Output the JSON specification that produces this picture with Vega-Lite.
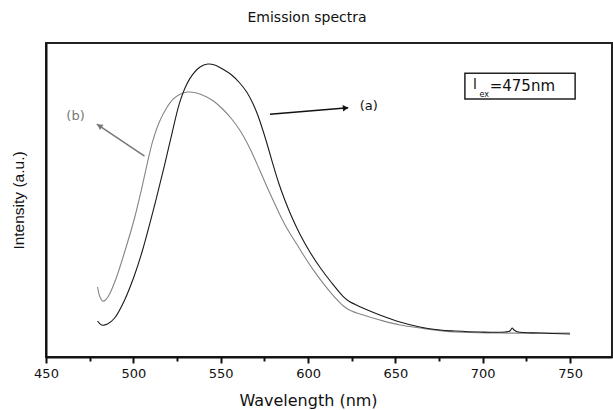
{
  "$schema": "https://vega.github.io/schema/vega-lite/v6.json",
  "width": 566,
  "height": 314,
  "autosize": {"type": "none"},
  "padding": {"left": 46, "top": 43, "right": 1, "bottom": 53},
  "background": "white",
  "title": {"text": "Emission spectra", "font": "DejaVu Sans", "fontSize": 14, "fontWeight": "normal", "color": "#111", "anchor": "middle", "frame": "group", "dx": -22, "offset": 7, "baseline": "alphabetic"},
  "config": {"view": {"stroke": "#222", "strokeWidth": 2}, "axis": {"grid": false}},
  "datasets": {
    "a": [
      {"wl": 479.5, "I": 11.46}, {"wl": 481.8, "I": 10.19}, {"wl": 485.2, "I": 10.51}, {"wl": 489.3, "I": 12.42},
      {"wl": 495.0, "I": 18.15}, {"wl": 500.7, "I": 26.11}, {"wl": 505.3, "I": 34.08}, {"wl": 512.2, "I": 48.41},
      {"wl": 517.9, "I": 61.15}, {"wl": 521.9, "I": 70.70}, {"wl": 526.5, "I": 81.0}, {"wl": 530.5, "I": 86.8},
      {"wl": 534.0, "I": 90.0}, {"wl": 538.0, "I": 92.3}, {"wl": 542.6, "I": 93.31}, {"wl": 546.6, "I": 92.99},
      {"wl": 551.1, "I": 91.72}, {"wl": 556.3, "I": 89.81}, {"wl": 560.9, "I": 87.26}, {"wl": 564.9, "I": 84.39},
      {"wl": 568.3, "I": 80.89}, {"wl": 571.2, "I": 77.07}, {"wl": 574.1, "I": 72.29}, {"wl": 576.9, "I": 67.2},
      {"wl": 579.8, "I": 61.6}, {"wl": 583.2, "I": 55.41}, {"wl": 586.7, "I": 50.00}, {"wl": 590.7, "I": 44.59},
      {"wl": 595.3, "I": 39.2}, {"wl": 601.0, "I": 33.5}, {"wl": 606.7, "I": 28.66}, {"wl": 613.6, "I": 23.57},
      {"wl": 619.9, "I": 19.4}, {"wl": 622.8, "I": 18.0}, {"wl": 629.7, "I": 16.0}, {"wl": 641.1, "I": 13.38},
      {"wl": 652.6, "I": 11.15}, {"wl": 664.0, "I": 9.55}, {"wl": 675.5, "I": 8.60}, {"wl": 684.1, "I": 8.28},
      {"wl": 698.4, "I": 7.96}, {"wl": 712.8, "I": 7.96}, {"wl": 715.6, "I": 8.28}, {"wl": 716.8, "I": 9.24},
      {"wl": 717.9, "I": 8.60}, {"wl": 720.2, "I": 7.96}, {"wl": 732.8, "I": 7.64}, {"wl": 750.0, "I": 7.32}
    ],
    "b": [
      {"wl": 479.5, "I": 22.29}, {"wl": 480.7, "I": 19.43}, {"wl": 482.4, "I": 17.83}, {"wl": 484.1, "I": 18.15},
      {"wl": 486.4, "I": 20.06}, {"wl": 490.4, "I": 25.48}, {"wl": 495.0, "I": 33.44}, {"wl": 500.7, "I": 44.27},
      {"wl": 504.7, "I": 53.5}, {"wl": 508.2, "I": 62.2}, {"wl": 511.0, "I": 68.6}, {"wl": 515.0, "I": 75.0},
      {"wl": 519.1, "I": 79.4}, {"wl": 522.5, "I": 82.0}, {"wl": 526.5, "I": 83.6}, {"wl": 531.1, "I": 84.39},
      {"wl": 536.2, "I": 84.08}, {"wl": 542.0, "I": 82.80}, {"wl": 546.6, "I": 81.21}, {"wl": 551.1, "I": 78.98},
      {"wl": 556.3, "I": 75.80}, {"wl": 560.9, "I": 72.29}, {"wl": 566.6, "I": 66.56}, {"wl": 572.3, "I": 59.55},
      {"wl": 578.1, "I": 52.23}, {"wl": 583.8, "I": 45.4}, {"wl": 588.4, "I": 40.5}, {"wl": 593.6, "I": 35.9},
      {"wl": 598.1, "I": 31.85}, {"wl": 602.7, "I": 28.0}, {"wl": 609.6, "I": 22.8}, {"wl": 615.3, "I": 19.0},
      {"wl": 619.9, "I": 16.4}, {"wl": 623.9, "I": 14.9}, {"wl": 632.5, "I": 13.2}, {"wl": 641.1, "I": 11.78},
      {"wl": 652.6, "I": 10.19}, {"wl": 664.0, "I": 9.24}, {"wl": 684.1, "I": 7.96}, {"wl": 709.9, "I": 7.64},
      {"wl": 750.0, "I": 7.64}
    ],
    "arrows": [
      {"arrow": "a", "wl": 578.2, "I": 77.3, "wl2": 623.0, "I2": 79.4},
      {"arrow": "b", "wl": 506.4, "I": 64.0, "wl2": 479.1, "I2": 74.2}
    ],
    "headA": [{"wl": 621.5, "I": 79.3}],
    "headB": [{"wl": 480.6, "I": 73.6}],
    "labA": [{"wl": 634.8, "I": 79.9, "t": "(a)"}],
    "labB": [{"wl": 466.9, "I": 76.8, "t": "(b)"}],
    "box": [{"wl": 689.8, "wl2": 752.9, "I": 82.2, "I2": 90.4}],
    "boxL": [{"wl": 695.6, "I": 86.5, "t": "l"}],
    "boxSub": [{"wl": 700.8, "I": 83.4, "t": "ex"}],
    "boxEq": [{"wl": 704.0, "I": 86.2, "t": "=475nm"}]
  },
  "layer": [
    {
      "data": {"name": "b"},
      "mark": {"type": "line", "color": "#858585", "strokeWidth": 1.1, "interpolate": "catmull-rom"},
      "encoding": {
        "x": {"field": "wl", "type": "quantitative", "scale": {"domain": [450, 774], "nice": false, "zero": false},
          "axis": {"orient": "bottom", "values": [475, 525, 575, 625, 675, 725], "labels": false, "ticks": true, "tickSize": 4, "tickWidth": 2, "tickColor": "#111", "domain": false, "title": null, "grid": false}},
        "y": {"field": "I", "type": "quantitative", "scale": {"domain": [0, 100], "nice": false, "zero": false}, "axis": null}
      }
    },
    {
      "data": {"name": "a"},
      "mark": {"type": "line", "color": "#1a1a1a", "strokeWidth": 1.1, "interpolate": "catmull-rom"},
      "encoding": {
        "x": {"field": "wl", "type": "quantitative", "scale": {"domain": [450, 774], "nice": false, "zero": false},
          "axis": {"orient": "bottom", "values": [450, 500, 550, 600, 650, 700, 750], "tickSize": 6, "tickWidth": 2, "tickColor": "#111", "domainColor": "#111", "domainWidth": 2, "labelFont": "DejaVu Sans", "labelFontSize": 13, "labelColor": "#111", "labelPadding": 4, "labelFlush": false, "labelOverlap": false, "title": "Wavelength (nm)", "titleFont": "DejaVu Sans", "titleFontSize": 16, "titleFontWeight": "normal", "titleColor": "#111", "titleX": 262, "titleY": 35, "titleBaseline": "top", "titleAlign": "center", "grid": false}},
        "y": {"field": "I", "type": "quantitative", "scale": {"domain": [0, 100], "nice": false, "zero": false},
          "axis": {"orient": "left", "title": "Intensity (a.u.)", "titleFont": "Liberation Sans", "titleFontSize": 15.5, "titleFontWeight": "normal", "titleColor": "#111", "labels": false, "ticks": false, "grid": false, "domain": true, "domainColor": "#111", "domainWidth": 2, "titlePadding": 20}}
      }
    },
    {
      "data": {"name": "arrows"},
      "mark": {"type": "rule", "strokeWidth": 1.5},
      "encoding": {
        "x": {"field": "wl", "type": "quantitative", "axis": null},
        "y": {"field": "I", "type": "quantitative", "axis": null},
        "x2": {"field": "wl2"},
        "y2": {"field": "I2"},
        "color": {"field": "arrow", "type": "nominal", "scale": {"domain": ["a", "b"], "range": ["#111111", "#777777"]}, "legend": null}
      }
    },
    {
      "data": {"name": "headA"},
      "mark": {"type": "point", "shape": "triangle-right", "angle": -5, "filled": true, "size": 40, "color": "#111", "opacity": 1},
      "encoding": {
        "x": {"field": "wl", "type": "quantitative", "axis": null},
        "y": {"field": "I", "type": "quantitative", "axis": null}
      }
    },
    {
      "data": {"name": "headB"},
      "mark": {"type": "point", "shape": "triangle-left", "angle": 34, "filled": true, "size": 40, "color": "#777", "opacity": 1},
      "encoding": {
        "x": {"field": "wl", "type": "quantitative", "axis": null},
        "y": {"field": "I", "type": "quantitative", "axis": null}
      }
    },
    {
      "data": {"name": "labA"},
      "mark": {"type": "text", "font": "DejaVu Sans", "fontSize": 13, "color": "#111", "align": "center", "baseline": "middle"},
      "encoding": {
        "x": {"field": "wl", "type": "quantitative", "axis": null},
        "y": {"field": "I", "type": "quantitative", "axis": null},
        "text": {"field": "t"}
      }
    },
    {
      "data": {"name": "labB"},
      "mark": {"type": "text", "font": "DejaVu Sans", "fontSize": 13, "color": "#777", "align": "center", "baseline": "middle"},
      "encoding": {
        "x": {"field": "wl", "type": "quantitative", "axis": null},
        "y": {"field": "I", "type": "quantitative", "axis": null},
        "text": {"field": "t"}
      }
    },
    {
      "data": {"name": "box"},
      "mark": {"type": "rect", "fill": "white", "stroke": "#222", "strokeWidth": 1.5},
      "encoding": {
        "x": {"field": "wl", "type": "quantitative", "axis": null},
        "x2": {"field": "wl2"},
        "y": {"field": "I", "type": "quantitative", "axis": null},
        "y2": {"field": "I2"}
      }
    },
    {
      "data": {"name": "boxL"},
      "mark": {"type": "text", "font": "DejaVu Sans", "fontSize": 14, "color": "#111", "align": "center", "baseline": "middle"},
      "encoding": {
        "x": {"field": "wl", "type": "quantitative", "axis": null},
        "y": {"field": "I", "type": "quantitative", "axis": null},
        "text": {"field": "t"}
      }
    },
    {
      "data": {"name": "boxSub"},
      "mark": {"type": "text", "font": "DejaVu Sans", "fontSize": 8, "color": "#111", "align": "center", "baseline": "middle"},
      "encoding": {
        "x": {"field": "wl", "type": "quantitative", "axis": null},
        "y": {"field": "I", "type": "quantitative", "axis": null},
        "text": {"field": "t"}
      }
    },
    {
      "data": {"name": "boxEq"},
      "mark": {"type": "text", "font": "DejaVu Sans", "fontSize": 15, "color": "#111", "align": "left", "baseline": "middle"},
      "encoding": {
        "x": {"field": "wl", "type": "quantitative", "axis": null},
        "y": {"field": "I", "type": "quantitative", "axis": null},
        "text": {"field": "t"}
      }
    }
  ],
  "resolve": {"axis": {"x": "independent", "y": "independent"}}
}
